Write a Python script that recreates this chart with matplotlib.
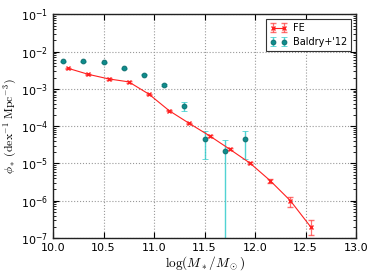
import matplotlib
matplotlib.use("Agg")
import matplotlib.pyplot as plt
import numpy as np
from matplotlib.ticker import LogLocator, MultipleLocator

# FE data
fe_x = [10.15, 10.35, 10.55, 10.75, 10.95, 11.15, 11.35, 11.55, 11.75, 11.95, 12.15, 12.35, 12.55]
fe_y = [3.55e-3, 2.45e-3, 1.85e-3, 1.54e-3, 7.2e-4, 2.6e-4, 1.18e-4, 5.5e-5, 2.4e-5, 1.02e-5, 3.45e-6, 1.0e-6, 2.0e-7]
fe_err_lo = [1.5e-4, 1.0e-4, 7e-5, 6e-5, 3e-5, 1.2e-5, 5e-6, 2.5e-6, 1.4e-6, 7e-7, 4e-7, 3.2e-7, 8e-8]
fe_err_hi = [1.5e-4, 1.0e-4, 7e-5, 6e-5, 3e-5, 1.2e-5, 5e-6, 2.5e-6, 1.4e-6, 7e-7, 4e-7, 2.5e-7, 1.1e-7]

# Baldry+'12 data
b_x = [10.10, 10.30, 10.50, 10.70, 10.90, 11.10, 11.30, 11.50, 11.70, 11.90]
b_y = [5.5e-3, 5.5e-3, 5.1e-3, 3.55e-3, 2.4e-3, 1.28e-3, 3.4e-4, 4.4e-5, 2.2e-5, 4.4e-5]
b_err_lo = [1e-4, 1e-4, 1e-4, 8e-5, 6e-5, 5e-5, 8.5e-5, 3.1e-5, 2.2e-5, 3.1e-5]
b_err_hi = [1e-4, 1e-4, 1e-4, 8e-5, 6e-5, 5e-5, 1.1e-4, 3.0e-5, 2.1e-5, 3.0e-5]

fig = plt.figure(figsize=(3.74, 2.8), dpi=100)
ax = fig.add_axes([0.1417, 0.15, 0.8103, 0.799])

ax.errorbar(fe_x, fe_y, yerr=[fe_err_lo, fe_err_hi], color='#ff2020', lw=0.8,
            marker='x', ms=3, mew=1.0, ecolor=(1, 0.2, 0.2, 0.7), elinewidth=0.9,
            capsize=2, capthick=0.9, label='FE')
ax.errorbar(b_x, b_y, yerr=[b_err_lo, b_err_hi], color='#0e8c8c', ls='none',
            marker='o', ms=3.5, mec='#0a6a6a', mew=0.6,
            ecolor=(0.2, 0.8, 0.8, 0.85), elinewidth=1.0, capsize=2, capthick=1.0,
            label="Baldry+'12")

ax.set_yscale('log')
ax.set_xlim(10.0, 13.0)
ax.set_ylim(1e-7, 1e-1)
ax.xaxis.set_major_locator(MultipleLocator(0.5))
ax.xaxis.set_major_formatter(matplotlib.ticker.FormatStrFormatter('%.1f'))
ax.yaxis.set_major_locator(LogLocator(base=10, numticks=10))
ax.yaxis.set_minor_locator(LogLocator(base=10, subs=np.arange(2, 10), numticks=20))
ax.yaxis.set_minor_formatter(matplotlib.ticker.NullFormatter())

ax.tick_params(which='both', direction='in', top=True, right=True, labelsize=8)
ax.tick_params(which='major', length=4)
ax.tick_params(which='minor', length=2)
for lab in ax.get_yticklabels() + ax.get_xticklabels():
    lab.set_fontproperties(matplotlib.font_manager.FontProperties(size=8, math_fontfamily='dejavusans'))

ax.grid(True, which='major', color='#999999', ls=':', lw=0.8)

ax.set_xlabel(r'$\log(M_*/M_\odot)$', fontsize=9.5, math_fontfamily='cm', labelpad=1)
ax.set_ylabel(r'$\phi_*\;(\mathrm{dex}^{-1}\ \mathrm{Mpc}^{-3})$', fontsize=8.5, math_fontfamily='cm', labelpad=1)

leg = ax.legend(loc='upper right', fontsize=7, numpoints=2, fancybox=False,
                framealpha=1, edgecolor='#333333', handlelength=1.8,
                borderpad=0.4, labelspacing=0.4, handletextpad=0.6)
leg.get_frame().set_linewidth(0.8)
for s in ax.spines.values():
    s.set_linewidth(1.0)
    s.set_color('#222222')

fig.savefig('out.png', dpi=100)
